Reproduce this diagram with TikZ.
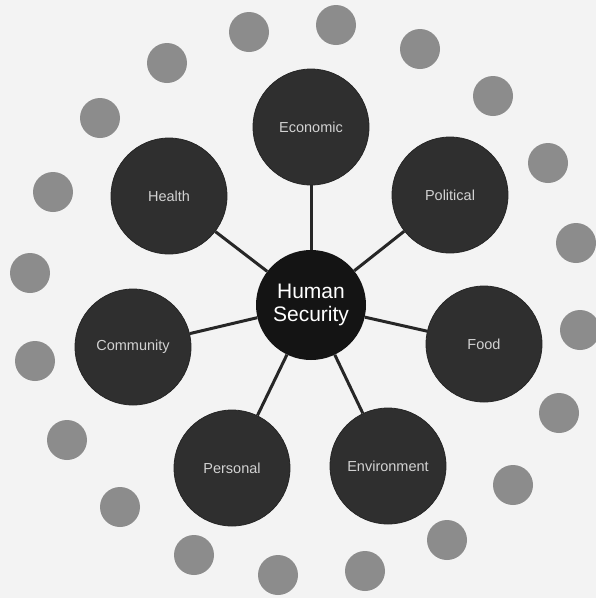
\documentclass[tikz,border=0pt]{standalone}
\usepackage{fontspec}
\setmainfont{Liberation Sans}
\definecolor{bgc}{HTML}{F3F3F3}
\definecolor{dotc}{HTML}{8C8C8C}
\definecolor{satc}{HTML}{2F2F2F}
\definecolor{hubc}{HTML}{141414}
\definecolor{satt}{HTML}{D2D2D2}
\definecolor{linec}{HTML}{262626}
\tikzset{
  sat/.style={circle, fill=satc, draw=black!85, line width=0.8pt, minimum size=116pt, inner sep=0pt, text=satt, font=\fontsize{14.5}{16}\selectfont},
  hub/.style={circle, fill=hubc, minimum size=110pt, inner sep=0pt, text=white, align=center, font=\fontsize{21}{23}\selectfont},
  dotnode/.style={circle, fill=dotc, minimum size=40pt, inner sep=0pt},
  link/.style={draw=linec, line width=3pt}
}
\begin{document}
\begin{tikzpicture}[x=1pt,y=-1pt]
\fill[bgc] (0,0) rectangle (596,598);
\useasboundingbox (0,0) rectangle (596,598);
% ring of dots
\foreach \i/\x/\y in {1/249/32, 2/336/25, 3/420/49, 4/493/96, 5/548/163, 6/576/243, 7/580/330, 8/559/413, 9/513/485, 10/447/540, 11/365/571, 12/278/575, 13/194/555, 14/120/507, 15/67/440, 16/35/361, 17/30/273, 18/53/192, 19/100/118, 20/167/63}
  \node[dotnode] (d\i) at (\x,\y) {};
% hub and satellites
\node[hub] (hs) at (311,305) {Human\\Security};
\node[sat] (eco) at (311,127) {Economic};
\node[sat] (pol) at (450,195) {Political};
\node[sat] (food) at (484,344) {Food};
\node[sat] (env) at (388,466) {Environment};
\node[sat] (per) at (232,468) {Personal};
\node[sat] (com) at (133,347) {Community};
\node[sat] (hea) at (169,196) {Health};
% connectors
\foreach \n in {eco,pol,food,env,per,com,hea}
  \draw[link] (hs) -- (\n);
\end{tikzpicture}
\end{document}
